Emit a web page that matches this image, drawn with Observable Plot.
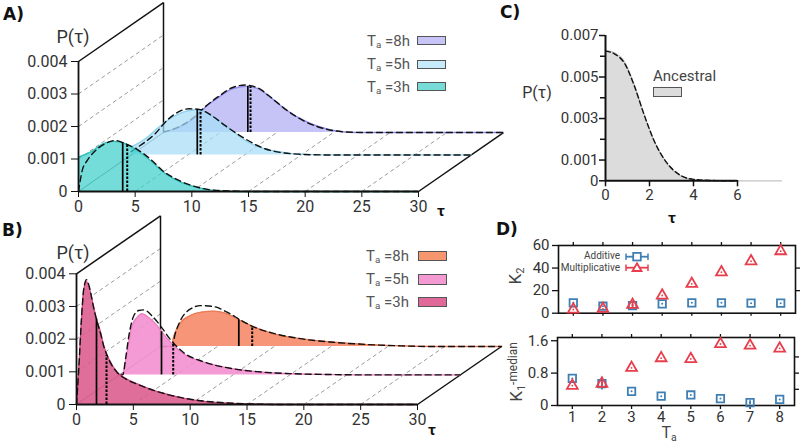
<!DOCTYPE html>
<html><head><meta charset="utf-8">
<script src="https://cdn.jsdelivr.net/npm/d3@7"></script>
<script src="https://cdn.jsdelivr.net/npm/@observablehq/plot@0.6"></script>
<style>
body{margin:0;background:#fff;font-family:Roboto,"Noto Sans",sans-serif;}
#fig{position:relative;width:800px;height:443px;overflow:hidden;background:#fff;}
.lbl{position:absolute;white-space:nowrap;color:#444;line-height:1;}
.lbl sub{font-size:0.65em;vertical-align:-0.3em;line-height:0;}
.lbl sup{font-size:0.7em;vertical-align:0.35em;line-height:0;}
.panel{font-family:"DejaVu Sans",sans-serif;font-weight:bold;color:#111;font-size:17px;}
.tau{font-weight:bold;color:#111;font-size:21px;}
.sw{position:absolute;border:1px solid #555;box-sizing:border-box;}
</style></head><body><div id="fig"></div>
<script>
// ---------------- DATA ----------------
// tick values
const tauTicks = [0, 5, 10, 15, 20, 25, 30];
const pTicks = [0, 0.001, 0.002, 0.003, 0.004];
const wallGrid = [0.001, 0.002, 0.003];
const floorGrid = [5, 10, 15, 20, 25];
const seriesLabels = ["3h", "5h", "8h"];

// Panel A (additive noise), [tau, P x 1e-3]
const A3_sim = [[0,1.06],[1.06,1.21],[2.2,1.47],[3.1,1.54],[4.0,1.49],[5.2,1.26],[6.35,0.95],[7.5,0.59],[9.0,0.29],[11.1,0.08],[12.5,0.01],[14,0],[30,0]];
const A3_theory = [[0,0],[0.33,0.65],[0.76,0.95],[1.35,1.21],[2.2,1.44],[3.27,1.57],[4.15,1.47],[5.2,1.29],[6.4,0.98],[7.5,0.62],[9,0.32],[10.5,0.13],[12,0.04],[14,0.01],[16,0],[30,0]];
const A5_sim = [[0,0.24],[1.26,0.5],[2.44,0.85],[3.62,1.16],[4.8,1.34],[5.67,1.39],[6.56,1.31],[7.73,1.06],[8.9,0.75],[10.1,0.44],[11.3,0.24],[12.4,0.14],[14,0.05],[16,0.01],[18,0],[30,0]];
const A5_theory = [[0,0.1],[0.38,0.19],[2.1,0.65],[3.3,1.11],[5.1,1.42],[6.0,1.4],[7.1,1.21],[8.3,0.9],[9.8,0.55],[11.8,0.19],[13.5,0.06],[15,0.02],[17,0],[30,0]];
const A8_sim = [[0,0],[1.35,0.16],[2.8,0.47],[3.7,0.78],[4.9,1.09],[6.06,1.34],[7.3,1.42],[8.4,1.34],[9.3,1.12],[10.9,0.68],[12.7,0.32],[14.4,0.11],[15.6,0.03],[17,0],[30,0]];
const A8_theory = [[0,0.02],[1.4,0.18],[2.8,0.5],[3.7,0.8],[4.9,1.12],[6.0,1.37],[7.2,1.46],[8.4,1.36],[9.3,1.13],[10.9,0.68],[12.7,0.3],[14.4,0.1],[16,0.02],[18,0],[30,0]];
const A_median = [3.9, 5.83, 7.44];
const A_medianP = [1.5, 1.38, 1.42];
const A_mean = [4.3, 6.12, 7.68];
const A_meanP = [1.47, 1.36, 1.41];
const A_depth = [0, 0.62, 1];

// Panel B (multiplicative noise)
const B3_sim = [[0,0],[0.2,1.04],[0.44,2.57],[0.64,3.49],[0.88,3.76],[1.05,3.65],[1.29,3.33],[1.47,3.03],[1.76,2.62],[2.11,2.22],[2.4,1.8],[2.84,1.4],[3.58,0.99],[4.3,0.8],[5.34,0.63],[6.8,0.43],[8.3,0.28],[10.6,0.12],[12.7,0.05],[15,0.02],[18,0],[30,0]];
const B3_theory = [[0,0],[0.2,1.1],[0.44,2.65],[0.64,3.55],[0.88,3.82],[1.05,3.7],[1.29,3.35],[1.47,3.03],[1.76,2.6],[2.11,2.18],[2.4,1.78],[2.84,1.38],[3.58,0.98],[4.3,0.79],[5.34,0.62],[6.8,0.43],[8.3,0.28],[10.6,0.13],[12.7,0.06],[15,0.02],[18,0],[30,0]];
const B5_sim = [[0,0],[0.25,0],[0.55,0.39],[0.84,1.0],[1.13,1.51],[1.57,1.76],[2.0,1.87],[2.74,1.71],[3.33,1.51],[3.77,1.3],[4.5,1.0],[5.67,0.64],[7.43,0.39],[9.8,0.2],[12.1,0.1],[15,0.04],[19,0.01],[22,0],[30,0]];
const B5_theory = [[0,0],[0.3,0],[0.55,0.5],[0.84,1.2],[1.28,1.82],[1.7,1.97],[2.14,1.99],[2.9,1.8],[3.62,1.5],[4.5,1.08],[5.67,0.68],[7.43,0.4],[9.8,0.2],[12.1,0.1],[15,0.04],[19,0.01],[22,0],[30,0]];
const B8_sim = [[0,0],[1.0,0],[1.1,0.2],[1.47,0.55],[1.76,0.72],[2.64,0.95],[3.6,1.05],[4.7,1.08],[5.87,1.0],[6.89,0.82],[8.2,0.6],[9.97,0.39],[12.3,0.24],[15.2,0.13],[18.2,0.06],[21.1,0.02],[24,0],[30,0]];
const B8_theory = [[0,0],[1.0,0],[1.3,0.4],[1.76,0.8],[2.64,1.15],[3.52,1.25],[4.69,1.22],[5.87,1.05],[7.0,0.82],[8.2,0.6],[9.97,0.4],[12.3,0.24],[15.2,0.13],[18.2,0.06],[21.1,0.02],[24,0],[30,0]];
const B_median = [1.76, 3.71, 6.89];
const B_medianP = [2.62, 1.32, 0.82];
const B_mean = [2.64, 4.74, 8.07];
const B_meanP = [1.5, 0.97, 0.6];
const B_depth = [0, 0.51, 1];

// Panel C (ancestral)
const C_sim = [[0,6.3],[0.38,6.18],[0.84,5.78],[1.3,4.66],[1.75,3.22],[2.2,1.94],[2.8,0.82],[3.4,0.25],[4.0,0.06],[4.9,0.01],[6,0],[8,0]];
const C_theory = [[0,6.25],[0.4,6.12],[0.9,5.6],[1.3,4.6],[1.75,3.2],[2.2,1.95],[2.8,0.85],[3.4,0.27],[4,0.07],[5,0.01],[6,0]];
const C_xTicks = [0, 2, 4, 6];
const C_yLabeled = [0, 0.001, 0.003, 0.005, 0.007];
const C_yMinor = [0.002, 0.004, 0.006];

// Panel D
const Ta = [1, 2, 3, 4, 5, 6, 7, 8];
const K2_add = [9.2, 6.2, 6.8, 8.3, 9.2, 9.2, 8.9, 8.9];
const K2_add_err = [0, 0, 0, 0, 0, 0, 0, 0];
const K2_mult = [3.3, 3.9, 7.4, 15.7, 26, 36.3, 46.1, 55];
const K2_mult_err = [0, 0, 3, 0, 0, 0, 0, 0];
const K1_add = [0.67, 0.54, 0.35, 0.23, 0.26, 0.17, 0.07, 0.15];
const K1_add_err = [0, 0.16, 0, 0, 0, 0, 0.05, 0];
const K1_mult = [0.49, 0.54, 0.93, 1.17, 1.15, 1.52, 1.48, 1.41];
const K1_mult_err = [0, 0.05, 0, 0, 0, 0, 0, 0];
const K2_ticks = [0, 20, 40, 60];
const K2_minor = [20, 40];
const K1_ticks = [0, 0.8, 1.6];
const K1_minor = [0.4, 0.8, 1.2];

// ---------------- STYLE ----------------
const W = 800, H = 443;
const fig = document.getElementById("fig");
const baseStyle = {position:"absolute", left:"0px", top:"0px", background:"none", overflow:"visible",
  fontFamily:"Roboto, 'Noto Sans', sans-serif", fontSize:"16px", color:"#333"};
const fmtP = d => d === 0 ? "0" : d3.format(".3f")(d);
const blue = "#3f7fb3", red = "#e83e4c";

function panel3D(p) {
  const {series, dx, dy, margin} = p;
  const xMax = d3.max(tauTicks), yMax = d3.max(pTicks);
  const marks = [];
  marks.push(Plot.link(wallGrid, {x1: () => 0, y1: d => d, x2: () => dx, y2: d => d + dy,
    stroke:"#9b9b9b", strokeWidth:1, strokeDasharray:"4,3"}));
  marks.push(Plot.link(floorGrid, {x1: d => d, y1: () => 0, x2: d => d + dx, y2: () => dy,
    stroke:"#9b9b9b", strokeWidth:1, strokeDasharray:"4,3"}));
  marks.push(Plot.link([{x1:0, y1:0, x2:dx, y2:dy}], {x1:"x1", y1:"y1", x2:"x2", y2:"y2", stroke:"#555", strokeWidth:0.8}));
  const edges = [
    {x1:0, y1:yMax, x2:dx, y2:yMax + dy},
    {x1:dx, y1:dy, x2:dx, y2:yMax + dy},
    {x1:xMax, y1:0, x2:xMax + dx, y2:dy}
  ];
  marks.push(Plot.link(edges, {x1:"x1", y1:"y1", x2:"x2", y2:"y2", stroke:"#111", strokeWidth:1.5}));
  for (let i = series.length - 1; i >= 0; i--) {
    const s = series[i];
    const base = s.d * dy, off = s.d * dx;
    const sim = s.sim.map(([t, v]) => ({x: t + off, y1: base, y2: v * 1e-3 + base}));
    const th = s.theory.map(([t, v]) => ({x: t + off, y: v * 1e-3 + base}));
    marks.push(Plot.areaY(sim, {x:"x", y1:"y1", y2:"y2", fill:s.fill, fillOpacity:s.op, curve:"monotone-x"}));
    marks.push(Plot.line(sim, {x:"x", y:"y2", stroke:s.edge, strokeWidth:1.3, curve:"monotone-x"}));
    marks.push(Plot.line(th, {x:"x", y:"y", stroke:"#111", strokeWidth:1.4, strokeDasharray:"6,4", curve:"monotone-x"}));
    marks.push(Plot.ruleX([{x: s.med + off, y1: base, y2: s.medP * 1e-3 + base}], {x:"x", y1:"y1", y2:"y2", stroke:"#000", strokeWidth:1.7}));
    marks.push(Plot.ruleX([{x: s.mean + off, y1: base, y2: s.meanP * 1e-3 + base}], {x:"x", y1:"y1", y2:"y2", stroke:"#000", strokeWidth:2, strokeDasharray:"2.5,1.5"}));
  }
  // front axes lines
  marks.push(Plot.ruleY([0], {x1: 0, x2: xMax, stroke:"#111", strokeWidth:1.8}));
  marks.push(Plot.ruleX([0], {y1: 0, y2: yMax, stroke:"#111", strokeWidth:1.8}));
  marks.push(Plot.axisX(tauTicks, {label: null, tickSize:6, tickPadding:3, tickFormat: d => String(d), stroke:"#111", fill:"#333"}));
  marks.push(Plot.axisY(pTicks, {label: null, tickSize:7, tickPadding:4, tickFormat: fmtP, stroke:"#111", fill:"#333"}));
  return Plot.plot({width:W, height:H, ...margin, x:{domain:[0, xMax], label: null}, y:{domain:[0, yMax], label: null}, style: baseStyle, marks});
}

function mkSeries(sims, theories, depth, med, medP, mean, meanP, fills, edges, ops) {
  return sims.map((sim, i) => ({sim, theory: theories[i], d: depth[i], med: med[i], medP: medP[i],
    mean: mean[i], meanP: meanP[i], fill: fills[i], edge: edges[i], op: ops[i]}));
}

const A_fills = ["#3fd0cc", "#a6def6", "#aeabf3"];
const A_edges = ["#2cc0bd", "#8fd2ef", "#8d89ea"];
const A_ops = [0.72, 0.72, 0.7];
const B_fills = ["#dc5a8c", "#f38fcf", "#f58a68"];
const B_edges = ["#cf4a80", "#ec7fc2", "#ec7a55"];
const B_ops = [0.88, 0.9, 0.9];

fig.appendChild(panel3D({
  series: mkSeries([A3_sim, A5_sim, A8_sim], [A3_theory, A5_theory, A8_theory], A_depth, A_median, A_medianP, A_mean, A_meanP, A_fills, A_edges, A_ops),
  dx: 7.5, dy: 0.001815,
  margin: {marginLeft: 78, marginRight: 382, marginTop: 61, marginBottom: 252}
}));
fig.appendChild(panel3D({
  series: mkSeries([B3_sim, B5_sim, B8_sim], [B3_theory, B5_theory, B8_theory], B_depth, B_median, B_medianP, B_mean, B_meanP, B_fills, B_edges, B_ops),
  dx: 7.39, dy: 0.001775,
  margin: {marginLeft: 76, marginRight: 383, marginTop: 273.3, marginBottom: 39}
}));

// Panel C
{
  const sim = C_sim.map(([t, v]) => ({x: t, y: v * 1e-3}));
  const th = C_theory.map(([t, v]) => ({x: t, y: v * 1e-3}));
  fig.appendChild(Plot.plot({
    width: W, height: H, marginLeft: 605, marginRight: 63, marginTop: 35, marginBottom: 262.7,
    x: {domain: [0, 6], label: null}, y: {domain: [0, 0.007], label: null}, style: {...baseStyle, fontSize: "15px"},
    marks: [
      Plot.areaY(sim, {x:"x", y:"y", fill:"#dcdcdc", curve:"monotone-x"}),
      Plot.line(sim, {x:"x", y:"y", stroke:"#c4c4c4", strokeWidth:1.2, curve:"monotone-x"}),
      Plot.line(th, {x:"x", y:"y", stroke:"#111", strokeWidth:1.4, strokeDasharray:"5,3", curve:"monotone-x"}),
      Plot.ruleX([0], {y1:0, y2:0.007, stroke:"#111", strokeWidth:2}),
      Plot.ruleY([0], {x1:0, x2:6, stroke:"#111", strokeWidth:2}),
      Plot.axisY(C_yLabeled, {label: null, tickSize:6, tickPadding:1, tickFormat: fmtP, stroke:"#111", strokeWidth:1.5, fill:"#333"}),
      Plot.axisY(C_yMinor, {label: null, tickSize:5, tickFormat: () => "", stroke:"#111", strokeWidth:1.5}),
      Plot.axisX(C_xTicks, {label: null, tickSize:6, tickPadding:3, tickFormat: d => String(d), stroke:"#111", strokeWidth:1.5, fill:"#333"})
    ]
  }));
}

// Panel D
function panelD(p) {
  const {add, addErr, mult, multErr, yDomain, yTicks, yMinor, margin, xLabels, yFmt} = p;
  const rowsA = Ta.map((t, i) => ({x: t, y: add[i], lo: add[i] - addErr[i], hi: add[i] + addErr[i]}));
  const rowsM = Ta.map((t, i) => ({x: t, y: mult[i], lo: mult[i] - multErr[i], hi: mult[i] + multErr[i]}));
  return Plot.plot({
    width: W, height: H, ...margin,
    x: {domain: [0.5, 8.5], label: null}, y: {domain: yDomain, label: null}, style: {...baseStyle, fontSize: "15px"},
    marks: [
      Plot.frame({stroke: "#111", strokeWidth: 1.6}),
      Plot.axisY(yTicks, {label: null, anchor:"left", tickSize:6, tickPadding:3, tickFormat: yFmt, stroke:"#111", strokeWidth:1.3, fill:"#333"}),
      Plot.axisY(yMinor, {label: null, anchor:"right", tickSize:4, tickFormat: () => "", stroke:"#111", strokeWidth:1.3}),
      Plot.axisX(Ta, {label: null, anchor:"top", tickSize:4, tickFormat: () => "", stroke:"#111", strokeWidth:1.3}),
      Plot.axisX(Ta, {label: null, anchor:"bottom", tickSize:xLabels ? 4 : 3, tickPadding: 2, tickFormat: xLabels ? (d => String(d)) : (() => ""), stroke:"#111", strokeWidth:1.3, fill:"#333"}),
      Plot.ruleX(rowsA, {x:"x", y1:"lo", y2:"hi", stroke: blue, strokeWidth: 1.8}),
      Plot.dot(rowsA, {x:"x", y:"y", symbol:"square", r:4.2, stroke: blue, strokeWidth: 1.8, fill: "none"}),
      Plot.dot(rowsA, {x:"x", y:"y", r:1, fill: blue}),
      Plot.ruleX(rowsM, {x:"x", y1:"lo", y2:"hi", stroke: red, strokeWidth: 1.8}),
      Plot.dot(rowsM, {x:"x", y:"y", symbol:"triangle", r:4, stroke: red, strokeWidth: 1.8, fill: "none"}),
      Plot.dot(rowsM, {x:"x", y:"y", r:0.9, fill: red})
    ]
  });
}
fig.appendChild(panelD({add: K2_add, addErr: K2_add_err, mult: K2_mult, multErr: K2_mult_err,
  yDomain: [0, 60], yTicks: K2_ticks, yMinor: K2_minor, xLabels: false, yFmt: d => String(d),
  margin: {marginLeft: 558, marginRight: 5, marginTop: 245, marginBottom: 130.3}}));
fig.appendChild(panelD({add: K1_add, addErr: K1_add_err, mult: K1_mult, multErr: K1_mult_err,
  yDomain: [0, 1.68], yTicks: K1_ticks, yMinor: K1_minor, xLabels: true, yFmt: d => d === 0 ? "0" : String(d),
  margin: {marginLeft: 557, marginRight: 6, marginTop: 337, marginBottom: 38}}));

// ---------------- TEXT / LEGENDS ----------------
function label(html, x, y, {anchor = "middle", size = 15, cls = "", rotate = 0, color} = {}) {
  const el = document.createElement("div");
  el.className = "lbl " + cls;
  el.innerHTML = html;
  el.style.left = x + "px";
  el.style.top = y + "px";
  el.style.fontSize = size + "px";
  if (color) el.style.color = color;
  const tx = anchor === "middle" ? "-50%" : anchor === "end" ? "-100%" : "0";
  el.style.transform = `translate(${tx},-50%)` + (rotate ? ` rotate(${rotate}deg)` : "");
  fig.appendChild(el);
}
function swatch(x, y, w, h, color) {
  const el = document.createElement("div");
  el.className = "sw";
  Object.assign(el.style, {left: x + "px", top: y + "px", width: w + "px", height: h + "px", background: color});
  fig.appendChild(el);
}

label("A)", 3, 14, {anchor: "start", cls: "panel", size: 17});
label("B)", 2, 230, {anchor: "start", cls: "panel", size: 17});
label("C)", 500, 12, {anchor: "start", cls: "panel", size: 17});
label("D)", 496, 229, {anchor: "start", cls: "panel", size: 17});

label("P(τ)", 73, 37, {size: 18, color: "#333"});
label("P(τ)", 73, 253, {size: 18, color: "#333"});
label("P(τ)", 537, 93, {size: 16, color: "#333"});
label("τ", 441, 211, {cls: "tau"});
label("τ", 432, 430, {cls: "tau"});
label("τ", 672, 218, {cls: "tau"});

// Legend A
const A_swatch = ["#77dbd8", "#c6ebfa", "#c7c5f7"];
const legAy = [86.7, 64, 40.7];
seriesLabels.forEach((s, i) => {
  label(`T<sub>a</sub> =${s}`, 410, legAy[i], {anchor: "end", size: 15, color: "#555"});
  swatch(417, legAy[i] - 4.5, 29, 9, A_swatch[i]);
});
// Legend B
const B_swatch = ["#e0699a", "#f49ad3", "#f5966f"];
const legBy = [301.7, 279.3, 255.7];
seriesLabels.forEach((s, i) => {
  label(`T<sub>a</sub> =${s}`, 409, legBy[i], {anchor: "end", size: 15, color: "#555"});
  swatch(418, legBy[i] - 5, 29, 10.5, B_swatch[i]);
});
// Legend C
label("Ancestral", 653, 76, {anchor: "start", size: 15, color: "#444"});
swatch(653, 87, 29, 10, "#dcdcdc");

// Legend D
label("Additive", 620, 256, {anchor: "end", size: 10, color: "#444"});
label("Multiplicative", 620, 268.3, {anchor: "end", size: 10, color: "#444"});
{
  const mk = document.createElement("div");
  mk.style.position = "absolute"; mk.style.left = "624px"; mk.style.top = "250px";
  mk.innerHTML = `<svg width="28" height="24" xmlns="http://www.w3.org/2000/svg">
    <line x1="2" y1="6.7" x2="24" y2="6.7" stroke="${blue}" stroke-width="1.8"/>
    <line x1="2" y1="3.5" x2="2" y2="10" stroke="${blue}" stroke-width="1.5"/>
    <line x1="24" y1="3.5" x2="24" y2="10" stroke="${blue}" stroke-width="1.5"/>
    <rect x="9.2" y="2.9" width="7.6" height="7.6" fill="white" stroke="${blue}" stroke-width="1.8"/>
    <line x1="2" y1="17.7" x2="24" y2="17.7" stroke="${red}" stroke-width="1.8"/>
    <line x1="2" y1="14.5" x2="2" y2="21" stroke="${red}" stroke-width="1.5"/>
    <line x1="24" y1="14.5" x2="24" y2="21" stroke="${red}" stroke-width="1.5"/>
    <polygon points="13,13.2 17.5,21 8.5,21" fill="white" stroke="${red}" stroke-width="1.8"/>
  </svg>`;
  fig.appendChild(mk);
}
label("K<sub>2</sub>", 515, 276, {size: 17, rotate: -90, color: "#444"});
label("K<sub>1</sub><sup>-median</sup>", 516, 372, {size: 17, rotate: -90, color: "#444"});
label("T<sub>a</sub>", 669, 432.5, {size: 16, color: "#444"});
</script>
</body></html>
